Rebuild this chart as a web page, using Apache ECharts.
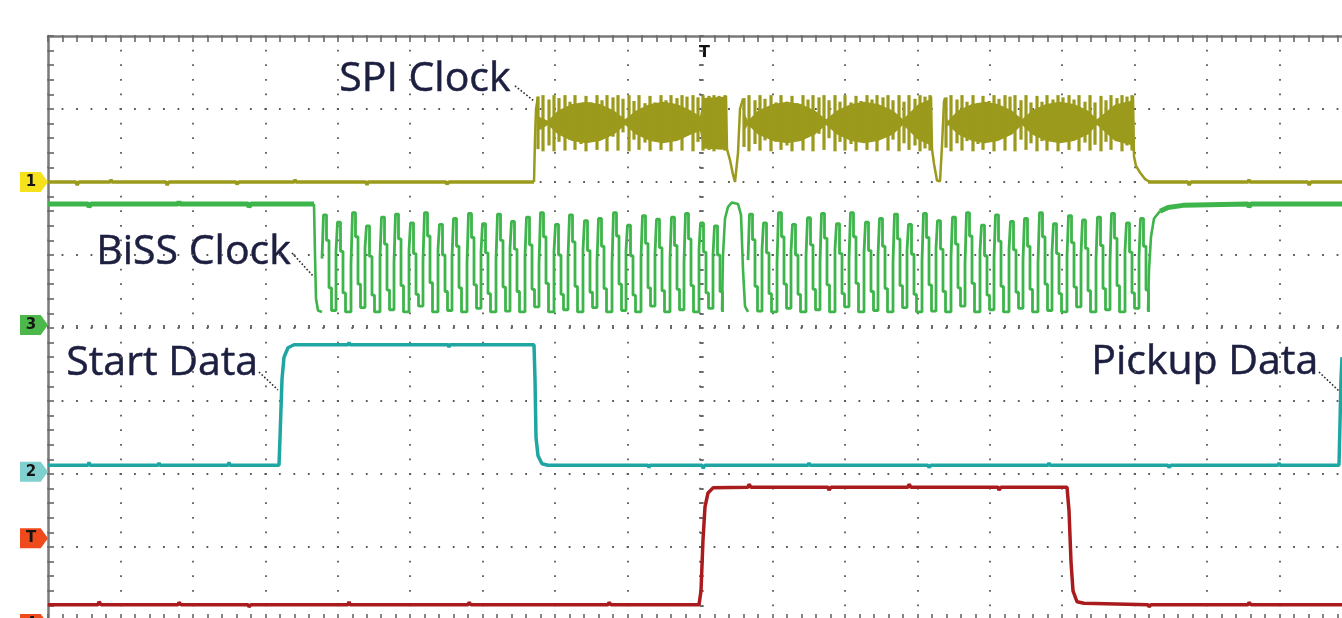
<!DOCTYPE html>
<html><head><meta charset="utf-8">
<script src="https://cdn.jsdelivr.net/npm/echarts@6/dist/echarts.min.js"></script>
<style>html,body{margin:0;padding:0;background:#fff}#c{width:1342px;height:618px}</style>
</head><body><div id="c"></div>
<script>
// ---------------- DATA (time in samples, 1304 samples = 18 div; level in divisions, 0..8) ----------------
const channelNames = ['1', '3', '2', '4'];
const markerLevels = [6.0, 4.04, 2.03, 0.0];
const triggerLevel = 1.12;

// Channel 1 - SPI clock
const spiIdle = [[0,6.0],[28,6.0],[29,5.96],[31,6.0],[62,6.0],[63,6.03],[64,6.0],[118,6.0],[119,5.96],[121,6.0],[188,6.0],[189,5.97],[191,6.0],[246,6.0],[247,6.03],[248,6.0],[318,6.0],[319,5.96],[320,6.0],[398,6.0],[399,5.97],[401,6.0],[486,6.0],[486.5,'-'],
  [1100,6.0],[1140,6.0],[1141,5.96],[1143,6.0],[1200,6.0],[1201,6.03],[1202,6.0],[1260,6.0],[1261,5.96],[1263,6.0],[1304,6.0]];
const spiEdges = [[486,6.0],[487,6.6],[488,7.0],[490,7.17],[490.5,'-'],
  [678,7.18],[679,6.45],[682,6.3],[685,6.1],[687,6.0],[689,6.01],[690,6.4],[692,7.0],[695,7.14],[695.5,'-'],
  [883,7.17],[884,6.45],[886,6.25],[889,6.02],[892,6.01],[894,6.5],[896,7.1],[897,7.15],[897.5,'-'],
  [1085,7.18],[1086,6.35],[1088,6.22],[1092,6.13],[1097,6.04],[1102,6.0]];
const spiColT = [490,495,501,506,511,517,522,527,533,538,543,549,554,559,565,570,575,581,586,591,597,602,607,613,618,623,629,634,639,645,650,655,661,666,671,677,
  696,701,707,712,717,723,728,733,739,744,749,755,760,765,771,776,781,787,792,797,803,808,813,819,824,829,835,840,845,851,856,861,867,872,877,882,
  898,903,909,914,919,925,930,935,941,946,951,957,962,967,973,978,983,989,994,999,1005,1010,1015,1021,1026,1031,1037,1042,1047,1053,1058,1063,1069,1074,1079,1084];
const spiColHi = [7.17,7.19,7.13,7.19,7.15,7.19,7.10,7.19,7.08,7.18,7.09,7.19,7.12,7.19,7.16,7.19,7.14,7.19,7.11,7.19,7.08,7.18,7.09,7.19,7.12,7.19,7.15,7.19,7.17,7.19,7.16,7.19,7.18,7.19,7.18,7.19,
  7.15,7.19,7.12,7.19,7.14,7.19,7.09,7.19,7.10,7.18,7.08,7.19,7.13,7.19,7.16,7.19,7.12,7.19,7.10,7.19,7.09,7.18,7.11,7.19,7.13,7.19,7.16,7.19,7.12,7.19,7.10,7.19,7.14,7.19,7.17,7.19,
  7.16,7.19,7.13,7.19,7.10,7.19,7.08,7.18,7.11,7.19,7.14,7.19,7.17,7.19,7.12,7.19,7.09,7.18,7.10,7.19,7.13,7.19,7.16,7.19,7.13,7.19,7.10,7.19,7.09,7.18,7.12,7.19,7.15,7.19,7.17,7.19];
const spiColLo = [6.45,6.42,6.50,6.42,6.55,6.43,6.58,6.44,6.52,6.42,6.55,6.44,6.60,6.42,6.62,6.43,6.68,6.42,6.58,6.44,6.54,6.42,6.56,6.44,6.60,6.42,6.64,6.43,6.66,6.42,6.55,6.43,6.44,6.42,6.45,6.43,
  6.48,6.42,6.52,6.43,6.57,6.42,6.55,6.44,6.50,6.42,6.56,6.43,6.62,6.42,6.66,6.44,6.60,6.42,6.55,6.43,6.52,6.42,6.57,6.44,6.63,6.42,6.65,6.43,6.58,6.42,6.53,6.44,6.50,6.42,6.46,6.43,
  6.47,6.42,6.53,6.43,6.56,6.42,6.52,6.44,6.55,6.42,6.61,6.43,6.65,6.42,6.58,6.44,6.53,6.42,6.56,6.43,6.62,6.42,6.66,6.44,6.59,6.42,6.54,6.43,6.51,6.42,6.55,6.44,6.58,6.42,6.50,6.43];
const spiCoreTop = [
  [[490,6.9],[500,6.84],[510,6.98],[524,7.07],[538,7.10],[552,7.07],[566,6.98],[577,6.86],[588,6.98],[602,7.07],[615,7.10],[629,7.07],[643,6.98],[652,6.9],[655,7.15],[679,7.17]],
  [[696,6.95],[700,6.84],[710,6.98],[725,7.07],[739,7.10],[753,7.07],[767,6.98],[778,6.86],[789,6.98],[803,7.07],[816,7.10],[830,7.07],[845,6.98],[855,6.86],[870,7.06],[883,7.14]],
  [[897,6.95],[900,6.84],[910,6.98],[924,7.07],[937,7.10],[950,7.07],[964,6.98],[974,6.86],[984,6.98],[998,7.07],[1012,7.10],[1026,7.07],[1040,6.98],[1049,6.86],[1067,7.06],[1085,7.12]]];
const spiCoreBot = [
  [[490,6.7],[500,6.78],[510,6.65],[524,6.56],[538,6.53],[552,6.56],[566,6.65],[577,6.78],[588,6.65],[602,6.56],[615,6.53],[629,6.56],[643,6.65],[652,6.7],[655,6.46],[679,6.44]],
  [[696,6.7],[700,6.78],[710,6.65],[725,6.56],[739,6.53],[753,6.56],[767,6.65],[778,6.78],[789,6.65],[803,6.56],[816,6.53],[830,6.56],[845,6.65],[855,6.78],[870,6.58],[883,6.5]],
  [[897,6.7],[900,6.78],[910,6.65],[924,6.56],[937,6.53],[950,6.56],[964,6.65],[974,6.78],[984,6.65],[998,6.56],[1012,6.53],[1026,6.56],[1040,6.65],[1049,6.78],[1067,6.56],[1085,6.5]]];

// Channel 3 - BiSS clock
const bissIdle = [[0,5.70],[40,5.70],[41,5.66],[43,5.70],[130,5.70],[131,5.73],[132,5.70],[200,5.70],[201,5.66],[203,5.70],[266,5.70],[266.5,'-'],
  [1112,5.6],[1120,5.65],[1135,5.68],[1200,5.70],[1201,5.66],[1203,5.70],[1304,5.70]];
const bissEdges = [[266,5.70],[267,5.0],[268,4.4],[270,4.24],[274,4.22],[274.5,'-'],
  [674,4.24],[675,5.0],[677,5.5],[680,5.66],[684,5.72],[690,5.70],[693,5.55],[695,4.8],[697,4.3],[700,4.22],[700.5,'-'],
  [1100,4.24],[1101,4.8],[1103,5.25],[1106,5.5],[1112,5.6]];
const bissRise = [274,288,303,317,332,346,361,375,390,404,419,433,448,462,477,491,506,520,535,549,564,578,593,607,622,636,651,665,
  700,714,729,743,758,772,787,801,816,830,845,859,874,888,903,917,932,946,961,975,990,1004,1019,1033,1048,1062,1077,1091];
const bissHi = [5.55,5.45,5.58,5.40,5.52,5.56,5.44,5.58,5.42,5.50,5.57,5.43,5.56,5.46,5.52,5.58,5.42,5.55,5.47,5.50,5.58,5.41,5.54,5.49,5.52,5.57,5.44,5.40,
  5.56,5.44,5.58,5.42,5.51,5.57,5.43,5.58,5.45,5.50,5.56,5.42,5.57,5.47,5.52,5.58,5.41,5.55,5.46,5.50,5.58,5.43,5.54,5.48,5.52,5.57,5.44,5.50];
const bissStepUp = [4.95,5.05,4.88,5.10,4.98,4.90,5.06,4.93,5.08,4.97,4.89,5.04,4.94,5.09,4.99,4.87,5.05,4.96,5.07,4.92,4.88,5.06,4.97,5.02,4.95,4.90,5.08,5.00,
  4.93,5.07,4.89,5.05,4.98,4.91,5.08,4.94,5.03,4.99,4.90,5.06,4.92,5.09,4.97,4.88,5.05,4.95,5.07,4.93,4.89,5.04,4.98,5.01,4.94,4.91,5.06,4.97];
const bissStepDown = [5.20,5.05,5.25,4.98,5.15,5.22,5.02,5.26,5.00,5.12,5.24,5.03,5.20,5.08,5.14,5.25,5.00,5.18,5.06,5.12,5.26,4.99,5.16,5.10,5.13,5.22,5.04,5.00,
  5.21,5.03,5.25,5.00,5.14,5.23,5.02,5.25,5.06,5.12,5.22,5.01,5.24,5.08,5.15,5.26,4.99,5.19,5.07,5.12,5.25,5.02,5.17,5.09,5.13,5.23,5.04,5.12];
const bissStepLow = [4.55,4.48,4.60,4.45,4.52,4.58,4.46,4.62,4.50,4.55,4.59,4.47,4.56,4.50,4.53,4.61,4.46,4.57,4.49,4.54,4.60,4.45,4.55,4.51,4.53,4.58,4.48,4.50,
  4.57,4.47,4.60,4.46,4.53,4.59,4.47,4.61,4.50,4.54,4.58,4.46,4.59,4.50,4.55,4.61,4.45,4.57,4.49,4.53,4.60,4.47,4.56,4.51,4.54,4.58,4.48,4.52];
const bissLo = [4.24,4.22,4.28,4.22,4.25,4.22,4.30,4.22,4.24,4.22,4.27,4.22,4.23,4.22,4.29,4.22,4.25,4.22,4.28,4.22,4.24,4.22,4.30,4.22,4.25,4.22,4.27,4.22,
  4.23,4.22,4.27,4.22,4.25,4.22,4.29,4.22,4.24,4.22,4.28,4.22,4.23,4.22,4.30,4.22,4.25,4.22,4.27,4.22,4.24,4.22,4.29,4.22,4.25,4.22,4.27,4.22];

// Channel 2 - Start Data / Pickup Data
const dataTrace = [[0,2.12],[40,2.12],[41,2.16],[42,2.12],[110,2.12],[111,2.15],[112,2.12],[180,2.12],[181,2.16],[182,2.12],[231,2.12],[232,2.5],[234,3.3],[236,3.6],[240,3.73],[246,3.77],
  [300,3.77],[301,3.8],[302,3.77],[400,3.77],[401,3.74],[402,3.77],[486,3.77],[487,3.3],[488,2.5],[490,2.25],[494,2.14],[500,2.12],
  [600,2.12],[601,2.09],[602,2.12],[654,2.12],[655,2.08],[657,2.12],[760,2.12],[761,2.15],[762,2.12],[880,2.12],[881,2.09],[883,2.12],
  [1000,2.12],[1001,2.15],[1002,2.12],[1120,2.12],[1121,2.09],[1123,2.12],[1230,2.12],[1231,2.15],[1232,2.12],[1291,2.12],[1292,2.7],[1293,3.3],[1294,3.6]];

// Channel 4
const ch4Trace = [[0,0.21],[50,0.21],[51,0.25],[53,0.21],[130,0.21],[131,0.24],[133,0.21],[200,0.21],[201,0.18],[203,0.21],[300,0.21],[301,0.25],[302,0.21],
  [420,0.21],[421,0.24],[423,0.21],[560,0.21],[561,0.24],[563,0.21],[651,0.21],[653,0.4],[655,1.1],[657,1.55],[660,1.74],[665,1.81],
  [700,1.82],[701,1.86],[703,1.82],[780,1.82],[781,1.78],[783,1.82],[860,1.82],[861,1.86],[863,1.82],[950,1.82],[951,1.78],[953,1.82],
  [1019,1.82],[1021,1.5],[1023,0.8],[1025,0.4],[1029,0.25],[1036,0.23],[1100,0.21],[1101,0.18],[1103,0.21],[1200,0.21],[1201,0.24],[1203,0.21],[1304,0.21]];

// Annotation texts
const labels = ['SPI Clock', 'BiSS Clock', 'Start Data', 'Pickup Data'];

// ---------------- CHART ----------------
const OLIVE = '#9b9a1c', GREEN = '#3db54a', TEAL = '#1fa6a2', RED = '#aa1b1d';
const GRID_W = 1304, GRID_H = 584;
const dotH = { color: '#5a5a5a', width: 1.8, type: [1.8, GRID_W / 90 - 1.8], dashOffset: 0.9 };
const dotV = { color: '#5a5a5a', width: 1.8, type: [1.8, GRID_H / 40 - 1.8], dashOffset: 0.9 };
const borderLine = { color: '#7a7a7a', width: 2.5 };
const tickStyle = { color: '#666', width: 1.6 };

function borderX(pos, split) {
  return { gridIndex: 0, type: 'value', min: 0, max: 1304, interval: 1304 / 18, position: pos,
    axisLine: { show: true, onZero: false, lineStyle: borderLine },
    axisTick: { show: true, inside: true, length: 6, lineStyle: tickStyle },
    minorTick: { show: true, splitNumber: 5, length: 6, lineStyle: tickStyle },
    axisLabel: { show: false }, splitLine: { show: split, lineStyle: dotV } };
}
function centerX(inside) {
  return { gridIndex: 1, type: 'value', min: -9, max: 9, interval: 1,
    axisLine: { show: false, onZero: true },
    axisTick: { show: true, inside: inside, length: 3, lineStyle: tickStyle },
    minorTick: { show: true, splitNumber: 5, length: 3, lineStyle: tickStyle },
    axisLabel: { show: false }, splitLine: { show: false } };
}
function centerY(inside) {
  return { gridIndex: 1, type: 'value', min: -4, max: 4, interval: 1,
    axisLine: { show: false, onZero: true },
    axisTick: { show: true, inside: inside, length: 3.5, lineStyle: tickStyle },
    minorTick: { show: true, splitNumber: 5, length: 3.5, lineStyle: tickStyle },
    axisLabel: { show: false }, splitLine: { show: false } };
}

const arrowPath = 'path://M0,0 L20,0 L27,10 L20,20 L0,20 Z';
function marker(level, txt, fill, dy) {
  return { coord: [0, level], symbol: arrowPath, symbolSize: [28, 20], symbolOffset: [-14, dy || 0],
    itemStyle: { color: fill },
    label: { show: true, formatter: txt, color: '#151515', fontWeight: 'bold', fontSize: 15, fontFamily: 'DejaVu Sans', offset: [-3, 0] } };
}
function lineSeries(name, data, color, width, marks, step) {
  const s = { name, type: 'line', xAxisIndex: 0, yAxisIndex: 0, data, symbol: 'none', silent: true, clip: true,
    lineStyle: { color, width }, itemStyle: { color }, animation: false, z: 3 };
  if (step) s.step = step;
  if (marks) s.markPoint = { silent: true, animation: false, data: marks };
  return s;
}

const bissOsc = [];
bissRise.forEach((r, i) => {
  bissOsc.push([r, bissStepUp[i]], [r + 1.5, bissHi[i]], [r + 4.5, bissStepDown[i]], [r + 7, bissStepLow[i]], [r + 9.5, bissLo[i]]);
  if (i === 27) bissOsc.push([r + 9.7, '-']);
});
bissOsc.push([1100, bissLo[bissLo.length - 1]]);

const font = '41px "Open Sans"';
const ink = '#1d1f40';
const txtStyle = (t) => ({ text: t, font, fill: ink, stroke: ink, lineWidth: 0.5 });
const lead = { stroke: '#2a2a2a', lineWidth: 1.6, lineDash: [1.6, 2] };

const gridBox = { left: 48, top: 36, width: 1304, height: 584, outerBoundsMode: 'none', containLabel: false };

const option = {
  backgroundColor: '#ffffff',
  animation: false,
  grid: [Object.assign({}, gridBox), Object.assign({}, gridBox)],
  xAxis: [borderX('bottom', true), borderX('top', false), centerX(true), centerX(false)],
  yAxis: [
    { gridIndex: 0, type: 'value', min: 0, max: 8, interval: 1, position: 'left',
      axisLine: { show: true, onZero: false, lineStyle: borderLine },
      axisTick: { show: true, inside: true, length: 6, lineStyle: tickStyle },
      minorTick: { show: true, splitNumber: 5, length: 6, lineStyle: tickStyle },
      axisLabel: { show: false }, splitLine: { show: true, lineStyle: dotH } },
    centerY(true), centerY(false)
  ],
  graphic: [
    { type: 'text', left: 339, top: 59, style: txtStyle(labels[0]) },
    { type: 'text', left: 96, top: 232, style: txtStyle(labels[1]) },
    { type: 'text', left: 66, top: 343, style: txtStyle(labels[2]) },
    { type: 'text', left: 1091, top: 342, style: txtStyle(labels[3]) },
    { type: 'line', shape: { x1: 515, y1: 86, x2: 534, y2: 101 }, style: lead },
    { type: 'line', shape: { x1: 292, y1: 253, x2: 314, y2: 277 }, style: lead },
    { type: 'line', shape: { x1: 259, y1: 372, x2: 278, y2: 390 }, style: lead },
    { type: 'line', shape: { x1: 1319, y1: 372, x2: 1340, y2: 392 }, style: lead },
    { type: 'text', left: 699, top: 45, style: { text: 'T', font: 'bold 16px "DejaVu Sans"', fill: '#111' } }
  ],
  series: [
    lineSeries('ch1', spiIdle, OLIVE, 3.5, [marker(markerLevels[0], channelNames[0], '#f5e21c')]),
    lineSeries('ch1e', spiEdges, OLIVE, 2.5),
    { type: 'custom', xAxisIndex: 0, yAxisIndex: 0, silent: true, clip: true, animation: false, z: 3,
      data: spiCoreTop.map(s => [s[0][0], s[0][1]]), encode: { x: 0, y: 1 },
      renderItem: (params, api) => {
        const i = params.dataIndex;
        const pts = spiCoreTop[i].concat(spiCoreBot[i].slice().reverse()).map(p => api.coord(p));
        return { type: 'polygon', shape: { points: pts }, style: { fill: OLIVE } };
      } },
    { type: 'custom', xAxisIndex: 0, yAxisIndex: 0, silent: true, clip: true, animation: false, z: 3,
      data: spiColT.map((t, i) => [t, spiColHi[i], spiColLo[i]]), encode: { x: 0, y: [1, 2] },
      renderItem: (params, api) => {
        const a = api.coord([api.value(0), api.value(1)]);
        const b = api.coord([api.value(0), api.value(2)]);
        return { type: 'rect', shape: { x: a[0] - 1.6, y: a[1], width: 3.2, height: b[1] - a[1] }, style: { fill: OLIVE } };
      } },
    lineSeries('ch3', bissIdle, GREEN, 5, [marker(markerLevels[1], channelNames[1], '#4cb84c')]),
    lineSeries('ch3e', bissEdges, GREEN, 2.6),
    lineSeries('ch3o', bissOsc, GREEN, 2.8, null, 'end'),
    lineSeries('ch2', dataTrace, TEAL, 3.5, [marker(markerLevels[2], channelNames[2], '#7fd0cf')]),
    lineSeries('ch4', ch4Trace, RED, 3.5, [marker(triggerLevel, 'T', '#ee4a1c'), marker(markerLevels[3], channelNames[3], '#ee4a1c', 4)])
  ]
};

const chart = echarts.init(document.getElementById('c'), null, { renderer: 'canvas' });
chart.setOption(option);
</script></body></html>
